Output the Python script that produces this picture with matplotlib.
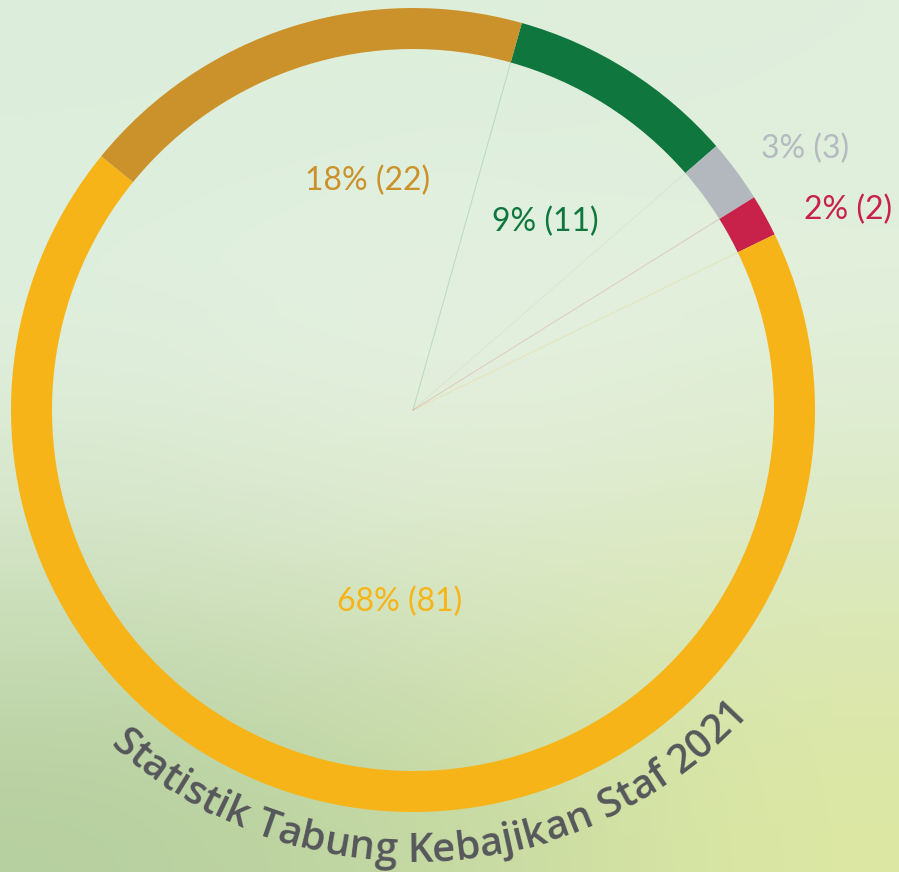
import numpy as np
import matplotlib.pyplot as plt
from matplotlib.colors import to_rgb
from matplotlib.font_manager import FontProperties
from matplotlib.textpath import TextPath

# data
categories = ['hijau', 'kelabu', 'merah', 'kuning', 'oren']
counts = [11, 3, 2, 81, 22]
colors = ['#0F773D', '#B2B8BE', '#C8214A', '#F7B418', '#CB922B']
label_colors = ['#0F773D', '#B4BAC0', '#C8214A', '#F7B418', '#CB922B']
label_pos = [(545, 222), (805, 149), (848, 210), (400, 602), (368, 181)]
title = "Statistik Tabung Kebajikan Staf 2021"

W, H = 899, 872
cx, cy = 413, H - 410
r_out, ring_w = 402, 41
start = 74.3

fig = plt.figure(figsize=(W / 100, H / 100), dpi=100)
ax = fig.add_axes([0, 0, 1, 1])

# soft background
bg_hex = [
    ['#DCEEDB', '#DDEEDB', '#DFEFDC'],
    ['#E1F0E0', '#E8F2E6', '#E3F0DD'],
    ['#D4E5C6', '#DFEBCF', '#DAE8C0'],
    ['#B6CF9E', '#C3D8A2', '#DDE8A2'],
]
bg = np.array([[to_rgb(c) for c in row] for row in bg_hex])
ax.imshow(bg, extent=(0, W, 0, H), origin='upper', interpolation='bicubic',
          aspect='auto', zorder=0)

ax.pie(counts, colors=colors, startangle=start, counterclock=False,
       radius=r_out, center=(cx, cy), frame=True,
       wedgeprops=dict(width=ring_w, linewidth=0, zorder=2))

# faint spokes at segment starts
total = sum(counts)
cum = np.concatenate([[0], np.cumsum(counts)[:-1]])
r_in = r_out - ring_w
for i in range(4):
    th = np.radians(start - cum[i] / total * 360)
    ax.plot([cx, cx + r_in * np.cos(th)], [cy, cy + r_in * np.sin(th)],
            color=colors[i], lw=0.7, alpha=0.18, zorder=1)

# labels
for v, (x, y), c in zip(counts, label_pos, label_colors):
    ax.text(x, H - y, f"{round(v / total * 100)}% ({v})", color=c,
            fontsize=23, family='Lato', ha='center', va='center', zorder=3)

# curved title along the bottom of the ring
fp = FontProperties(family='Open Sans', weight='semibold', size=29)
base = TextPath((0, 0), 'll', prop=fp).get_extents().width
adv = np.array([TextPath((0, 0), 'l' + ch + 'l', prop=fp).get_extents().width - base
                for ch in title])
r_b = 452
th_a, th_b = np.radians(227.7), np.radians(318)
adv = adv / adv.sum() * (th_b - th_a)   # spread over the arc
pos = th_a
for ch, w in zip(title, adv):
    th = pos + w / 2
    pos += w
    if ch == ' ':
        continue
    ax.text(cx + r_b * np.cos(th), cy + r_b * np.sin(th), ch,
            fontproperties=fp, color='#56575B', ha='center', va='baseline',
            rotation=np.degrees(th) + 90, rotation_mode='anchor', zorder=3)

ax.set_xlim(0, W)
ax.set_ylim(0, H)
ax.set_aspect('auto')
ax.axis('off')
fig.savefig('out.png', dpi=100)
